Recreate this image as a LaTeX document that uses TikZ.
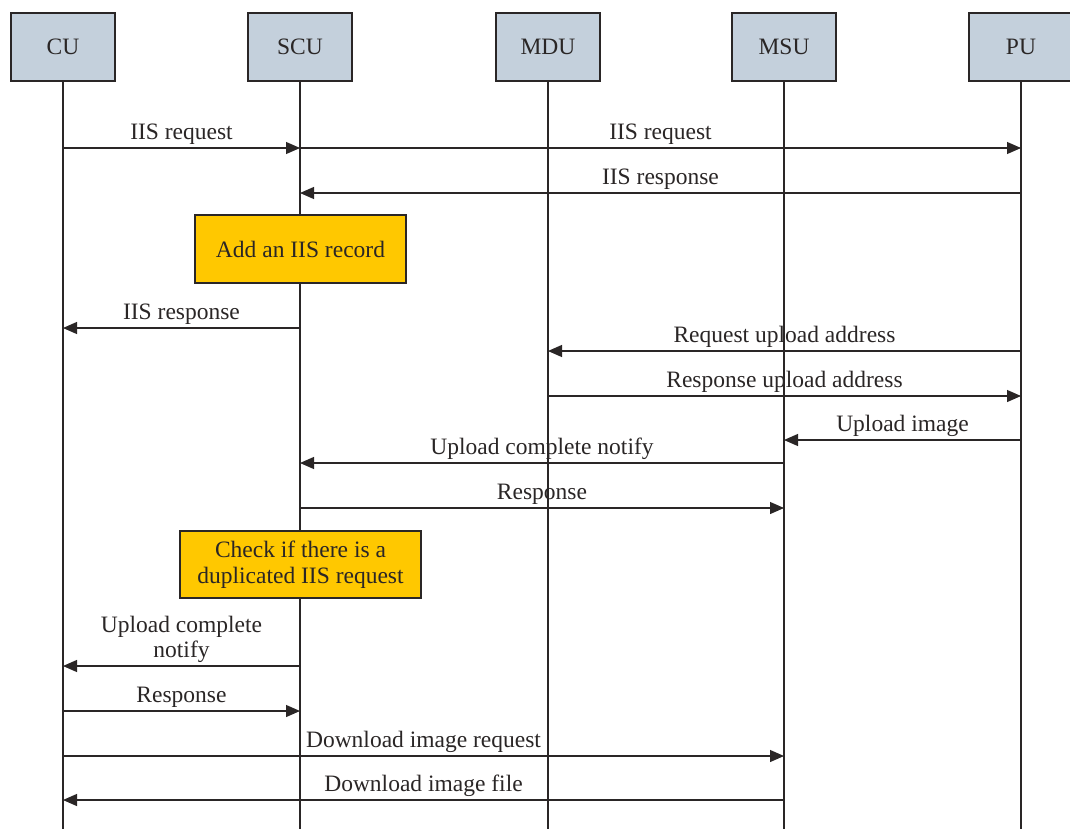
\documentclass[tikz,border=0pt]{standalone}
\usepackage{fontspec}
\setmainfont{Liberation Serif}
\usetikzlibrary{arrows.meta}
\definecolor{hdr}{HTML}{C4D0DC}
\definecolor{note}{HTML}{FFC800}
\definecolor{ink}{HTML}{2A2626}
\begin{document}
\begin{tikzpicture}[x=1pt,y=-1pt,
  font=\fontsize{23.5}{26}\selectfont,
  every node/.style={text=ink},
  header/.style={draw=ink,line width=1.4pt,fill=hdr,minimum width=104pt,minimum height=68pt,inner sep=0pt},
  notebox/.style={draw=ink,line width=1.2pt,fill=note,inner sep=0pt,align=center},
  life/.style={draw=ink,line width=1.2pt},
  msg/.style={draw=ink,line width=1.1pt,-{Triangle[length=14pt,width=12pt]}},
  lbl/.style={anchor=south,inner sep=0pt,align=center,yshift=2.5pt,font=\fontsize{23.5}{25}\selectfont}]
\useasboundingbox (0,0) rectangle (1070,828);
\fill[white] (0,0) rectangle (1070,828);
% headers
\node[header] (CU)  at (63,47)  {CU};
\node[header] (SCU) at (300,47) {SCU};
\node[header] (MDU) at (548,47) {MDU};
\node[header] (MSU) at (784,47) {MSU};
\node[header] (PU)  at (1021,47) {PU};
% lifeline ends
\coordinate (CUb)  at (63,830);
\coordinate (SCUb) at (300,830);
\coordinate (MDUb) at (548,830);
\coordinate (MSUb) at (784,830);
\coordinate (PUb)  at (1021,830);
\draw[life] (CU.south) -- (CUb);
\draw[life] (SCU.south) -- (SCUb);
\draw[life] (MDU.south) -- (MDUb);
\draw[life] (MSU.south) -- (MSUb);
\draw[life] (PU.south) -- (PUb);
% notes
\node[notebox,minimum width=211pt,minimum height=68pt] (N1) at (300.5,249) {Add an IIS record};
\node[notebox,minimum width=241pt,minimum height=67pt] (N2) at (300.5,564.5) {Check if there is a\\duplicated IIS request};
% messages
\draw[msg] (CU |- 0,148) -- node[lbl] {IIS request} (SCU |- 0,148);
\draw[msg] (SCU |- 0,148) -- node[lbl] {IIS request} (PU |- 0,148);
\draw[msg] (PU |- 0,193) -- node[lbl] {IIS response} (SCU |- 0,193);
\draw[msg] (SCU |- 0,328) -- node[lbl] {IIS response} (CU |- 0,328);
\draw[msg] (PU |- 0,351) -- node[lbl] {Request upload address} (MDU |- 0,351);
\draw[msg] (MDU |- 0,396) -- node[lbl] {Response upload address} (PU |- 0,396);
\draw[msg] (PU |- 0,440) -- node[lbl] {Upload image} (MSU |- 0,440);
\draw[msg] (MSU |- 0,463) -- node[lbl] {Upload complete notify} (SCU |- 0,463);
\draw[msg] (SCU |- 0,508) -- node[lbl] {Response} (MSU |- 0,508);
\draw[msg] (SCU |- 0,666) -- node[lbl] {Upload complete\\notify} (CU |- 0,666);
\draw[msg] (CU |- 0,711) -- node[lbl] {Response} (SCU |- 0,711);
\draw[msg] (CU |- 0,756) -- node[lbl] {Download image request} (MSU |- 0,756);
\draw[msg] (MSU |- 0,800) -- node[lbl] {Download image file} (CU |- 0,800);
\end{tikzpicture}
\end{document}
